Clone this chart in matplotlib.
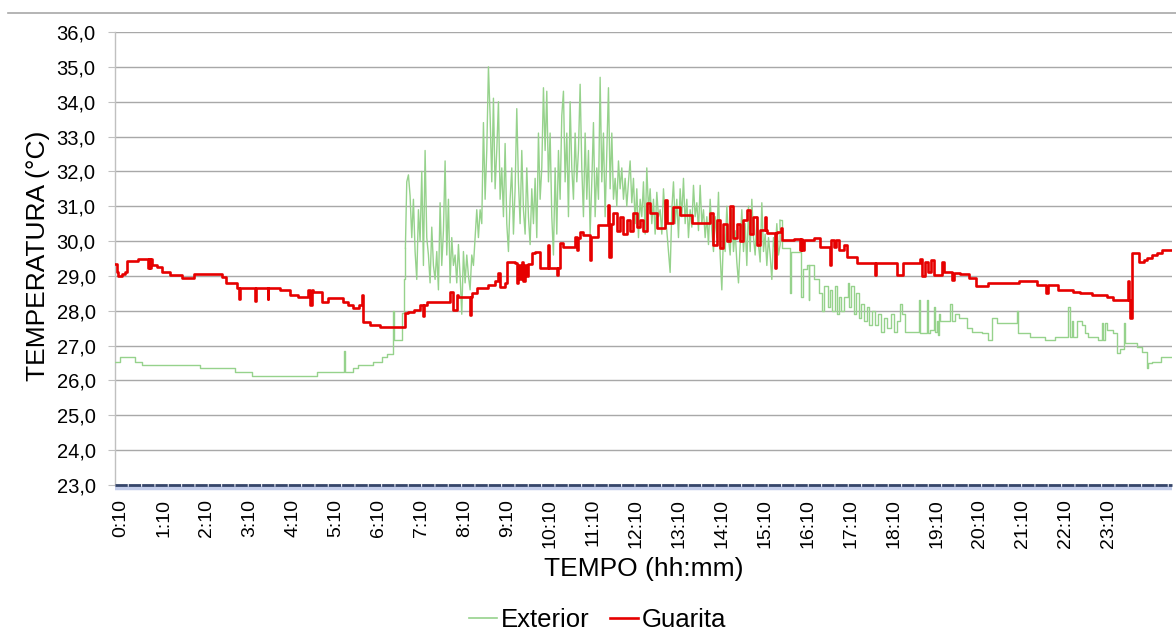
import numpy as np
import matplotlib
matplotlib.use("Agg")
import matplotlib.pyplot as plt
from matplotlib.lines import Line2D
import matplotlib.transforms as mtransforms

plt.rcParams['font.family'] = ['Liberation Sans', 'DejaVu Sans']

# ---------------- data (minute of day, temperature °C) ----------------
ext_night = [
    (1.6, 26.54), (8.6, 26.66), (29.5, 26.54), (40, 26.44), (120.4, 26.35), (169.3, 26.25),
    (192.6, 26.14), (283.5, 26.23), (321.7, 26.85), (323.5, 26.23), (334.8, 26.35), (341.8, 26.44),
    (362.7, 26.54), (374.4, 26.67), (381.4, 26.76), (389.8, 28.0), (391.6, 27.16), (402.3, 27.93),
    (405.6, 28.9), (407.5, 29.8),
]
ext_dense_start = 409.4
ext_dense_step = 2.33
ext_dense_temps = [
    31.7, 31.9, 31.3, 30.1, 31.2, 29.7, 28.9, 30.9, 30.0, 32.0, 29.3, 32.6, 30.1, 29.6, 28.8,
    30.4, 29.3, 28.9, 29.7, 28.6, 31.1, 29.3, 30.3, 32.3, 29.6, 31.2, 28.8, 30.1, 29.3, 29.6,
    28.8, 29.9, 29.0, 27.9, 29.7, 28.8, 29.6, 29.0, 28.6, 29.6, 29.3, 30.1, 30.9, 30.1, 30.9,
    30.5, 33.4, 31.2, 32.6, 35.0, 33.6, 31.7, 34.1, 31.5, 32.6, 34.0, 31.2, 32.1, 30.7, 32.8,
    30.5, 29.7, 31.2, 32.1, 30.2, 31.5, 33.8, 31.7, 30.5, 32.6, 30.9, 30.2, 32.1, 30.7, 29.9,
    31.5, 30.5, 31.8, 30.1, 33.1, 31.2, 32.1, 34.4, 32.6, 34.3, 31.7, 33.1, 30.7, 29.6, 32.1,
    30.2, 32.6, 31.2, 33.6, 34.3, 31.7, 33.1, 30.7, 34.0, 32.1, 31.2, 33.1, 31.7, 32.6, 34.5,
    32.1, 30.7, 33.1, 31.2, 32.6, 30.2, 31.7, 33.4, 30.7, 32.1, 31.2, 34.7, 31.7, 33.1, 30.7,
    32.6, 34.4, 31.5, 33.1, 31.2, 31.8, 31.0, 32.3, 31.5, 32.1, 31.2, 31.8, 31.0, 31.7, 32.3,
    31.1, 31.8, 30.5, 31.5, 30.1, 31.2, 30.7, 31.7, 30.2, 32.1, 30.9, 31.5, 30.5, 31.2, 30.2,
    31.4, 30.7, 30.9, 30.2, 31.5, 30.7, 30.3, 29.7, 29.1, 30.9, 31.7, 30.5, 31.2, 30.1, 31.5,
    30.7, 31.8, 30.5, 31.2, 30.1, 30.9, 30.4, 31.6, 30.7, 31.1, 30.3, 31.6, 30.5, 30.9, 30.1,
    30.7, 29.9, 31.2, 30.3, 29.7, 30.7, 30.1, 31.4, 29.6, 28.6, 30.2, 29.7, 31.0, 30.1, 29.6,
    30.9, 29.7, 30.3, 29.4, 28.8, 29.9, 30.9, 29.7, 30.5, 29.3, 31.0, 29.7, 31.2, 30.1, 29.6,
    30.7, 29.9, 29.4, 31.1, 29.7, 30.2, 29.3, 30.1, 29.6, 28.9, 30.1, 29.7, 30.5, 29.6, 29.9,
]
ext_afternoon = [
    (931, 30.6), (934, 29.8), (945, 28.5), (947, 29.7), (961, 28.4), (963, 29.2), (969, 29.3),
    (971, 28.3), (972, 29.3), (978, 28.9), (985, 28.5), (990, 28.0), (993, 28.7), (998, 28.1),
    (1001, 28.6), (1004, 28.0), (1008, 28.7), (1011, 27.9), (1014, 28.4), (1017, 28.0),
    (1021, 28.4), (1026, 28.8), (1027, 28.1), (1030, 28.7), (1034, 27.9), (1037, 28.5),
    (1041, 27.8), (1044, 28.2), (1048, 27.7), (1052, 28.1), (1056, 27.6), (1060, 28.0),
    (1064, 27.6), (1068, 27.9), (1072, 27.4), (1076, 27.8), (1080, 27.5), (1086, 27.9),
    (1090, 27.4), (1095, 27.7),
]
ext_evening = [
    (1099, 28.2), (1102, 27.9), (1106, 27.4), (1125, 28.3), (1127, 27.35), (1136, 28.3),
    (1138, 27.35), (1141, 27.45), (1146, 28.1), (1148, 27.4), (1150, 27.7), (1152, 27.3),
    (1154, 27.9), (1155, 27.7), (1169, 28.2), (1171, 27.7), (1176, 27.9), (1181, 27.8),
    (1192, 27.5), (1199, 27.4), (1213, 27.35), (1222, 27.16), (1227, 27.8), (1234, 27.65),
    (1262, 28.0), (1264, 27.35), (1281, 27.26), (1302, 27.16), (1316, 27.26), (1334, 28.1),
    (1336, 27.26), (1339, 27.7), (1341, 27.26), (1346, 27.7), (1353, 27.6), (1358, 27.35),
    (1362, 27.26), (1376, 27.16), (1381, 27.64), (1383, 27.16), (1386, 27.64), (1388, 27.45),
    (1397, 27.35), (1402, 26.78), (1406, 26.9), (1412, 27.64), (1414, 27.07), (1430, 26.97),
    (1437, 26.83), (1444, 26.35), (1446, 26.5), (1451, 26.54), (1463, 26.66), (1479, 26.66),
]

gua_night = [
    (1.6, 29.33), (4, 29.1), (6.2, 29.0), (10.9, 29.05), (15.6, 29.1), (17.9, 29.44),
    (34.2, 29.49), (47.5, 29.22), (48.8, 29.49), (50.3, 29.22), (51.6, 29.49), (52.8, 29.31),
    (59.8, 29.27), (66.8, 29.12), (78.5, 29.03), (94.8, 28.93), (112, 29.05), (150.7, 28.98),
    (156.7, 28.81), (171.7, 28.64), (175.4, 28.35), (176.5, 28.64), (197.3, 28.28),
    (198.4, 28.64), (215, 28.35), (216.1, 28.64), (232.2, 28.6), (246.2, 28.45), (257.9, 28.39),
    (271.9, 28.6), (274.2, 28.17), (276.5, 28.6), (278.8, 28.55), (290.5, 28.26), (298.9, 28.36),
    (320.8, 28.26), (327.8, 28.17), (334.8, 28.07), (342, 28.17), (346.4, 28.45), (348.8, 27.69),
    (358, 27.59), (372, 27.54), (407, 27.93), (411.6, 27.97),
]
gua_day = [
    (420, 28.02), (428, 28.17), (432, 27.85), (434, 28.17), (437.3, 28.26), (470, 28.55),
    (474.6, 28.02), (479, 28.45), (481.6, 28.4), (497.9, 27.88), (499.3, 28.4), (500.2, 28.5),
    (507.2, 28.64), (523.6, 28.74), (532.9, 28.84), (537.5, 29.08), (539.9, 28.69),
    (546.9, 28.79), (549.2, 29.41), (560.8, 29.36), (563, 28.8), (565.5, 29.3), (567.8, 28.9),
    (570, 29.4), (572.5, 28.85), (574.8, 29.3), (577, 29.0), (579.5, 29.35), (584.1, 29.65),
    (588.8, 29.7), (595.8, 29.22), (607.4, 29.89), (608.8, 29.22), (619.1, 29.03),
    (620.5, 29.22), (623.7, 29.94), (628.4, 29.84), (644.7, 30.13), (647, 29.74), (649.4, 30.08),
    (651.7, 30.27), (656.4, 30.18), (665.7, 29.46), (667.1, 30.13), (677.3, 30.46),
    (690.4, 31.04), (692.7, 29.55), (695, 30.5), (698.3, 30.8), (703, 30.3), (707.6, 30.7),
    (712.3, 30.2), (717, 30.6), (721.6, 30.3), (726.3, 30.8), (731, 30.4), (735.6, 30.6),
    (740.2, 30.3), (744.9, 31.08), (749.6, 30.8), (758.9, 30.37), (770.5, 31.18),
    (772.9, 30.51), (782.2, 30.99), (791.5, 30.75), (807.8, 30.51), (833.4, 30.8),
    (838.1, 29.9), (842.8, 30.6), (847.4, 29.8), (852.1, 30.5), (856.7, 30.0), (861.4, 31.0),
    (866, 30.1), (870.7, 30.5), (875.4, 30.0), (880, 30.6), (884.7, 30.9), (889.4, 30.2),
    (894, 30.7), (898.7, 29.9),
]
gua_afternoon = [
    (903.3, 30.32), (910, 30.7), (911.5, 30.32), (913, 30.22), (924.3, 29.22), (925.5, 30.22),
    (927, 30.27), (932, 30.37), (934, 30.03), (950, 30.05), (959, 29.74), (961, 30.05),
    (962, 29.74), (964, 30.03), (978, 30.08), (987, 29.84), (1001, 29.31), (1002, 30.03),
    (1006, 29.84), (1009, 30.03), (1013, 29.74), (1020, 29.89), (1024.5, 29.55),
    (1038.4, 29.36), (1064, 29.03), (1065.5, 29.36), (1094.4, 29.03), (1103.7, 29.36),
    (1127, 29.5), (1130, 29.0), (1134, 29.4), (1138, 29.1), (1142, 29.45), (1146, 29.03),
    (1157, 29.41), (1160, 29.12), (1171.2, 28.88), (1173.6, 29.07),
]
gua_evening = [
    (1183, 29.05), (1195, 28.95), (1205, 28.7), (1222, 28.8), (1265, 28.85), (1290, 28.75),
    (1300, 28.75), (1303, 28.5), (1305, 28.75), (1320, 28.6), (1340, 28.55), (1351, 28.5),
    (1367, 28.45), (1388, 28.39), (1397, 28.31), (1417.3, 28.84), (1418.7, 28.31),
    (1419.7, 27.78), (1423, 29.65), (1432.3, 29.41), (1439.2, 29.46), (1443.9, 29.51),
    (1450.9, 29.6), (1457.9, 29.67), (1464.9, 29.73), (1479, 29.73),
]

tick_minutes = [10 + 60 * h for h in range(24)]
tick_labels = [f"{h}:10" for h in range(24)]
y_ticks = [23, 24, 25, 26, 27, 28, 29, 30, 31, 32, 33, 34, 35, 36]

series_names = ["Exterior", "Guarita"]
colors = ["#96d28c", "#e60000"]

# ---------------- assemble ----------------
def unzip(*segs):
    t, v = [], []
    for s in segs:
        for a, b in s:
            t.append(a)
            v.append(b)
    return t, v

et1, ev1 = unzip(ext_night)
dense_t = list(ext_dense_start + ext_dense_step * np.arange(len(ext_dense_temps)))
et2, ev2 = unzip(ext_afternoon, ext_evening)
gua_t, gua_v = unzip(gua_night, gua_day, gua_afternoon, gua_evening)

# ---------------- figure ----------------
W, H = 1176, 637
fig = plt.figure(figsize=(W / 100, H / 100), dpi=100)
ax = fig.add_axes([115 / W, 1 - 485 / H, (1172 - 115) / W, (485 - 32) / H])

green_kw = dict(color=colors[0], lw=1.0, zorder=3)
ax.plot(et1, ev1, drawstyle='steps-post', **green_kw)
ax.plot([et1[-1]] + dense_t + [et2[0]], [ev1[-1]] + ext_dense_temps + [ev2[0]], **green_kw)
ax.plot(et2, ev2, drawstyle='steps-post', **green_kw)
ax.plot(gua_t, gua_v, drawstyle='steps-post', color=colors[1], lw=1.9, zorder=4)

ax.set_xlim(1.6, 1479)
ax.set_ylim(23, 36)
ax.set_yticks(y_ticks)
ax.set_yticklabels([f"{v:.1f}".replace('.', ',') for v in y_ticks], fontsize=14.5)
ax.set_xticks(tick_minutes)
ax.set_xticklabels(tick_labels, rotation=90, fontsize=14)

ax.yaxis.grid(True, color='#a8a8a8', lw=1.0)
ax.set_axisbelow(True)
for s in ['top', 'right', 'bottom']:
    ax.spines[s].set_visible(False)
ax.spines['left'].set_color('#c0c0c0')
ax.spines['left'].set_linewidth(1.0)
ax.tick_params(axis='y', length=5, color='#c0c0c0', pad=9)
ax.tick_params(axis='x', length=0, pad=10)

# axis floor band at 23,0
off = mtransforms.offset_copy(ax.transData, fig=fig, x=0, y=-2.5, units='dots')
ax.plot([1.6, 1479], [23, 23], color='#c3cdea', lw=3.2, transform=off, clip_on=False, zorder=5,
        solid_capstyle='butt')
floor, = ax.plot([1.6, 1479], [23, 23], color='#36466a', lw=2.0, clip_on=False, zorder=6)
floor.set_dashes((4.4, 0.4))

ax.set_xlabel("TEMPO (hh:mm)", fontsize=19, va='center')
ax.xaxis.set_label_coords(0.5, -0.185)
ax.set_ylabel("TEMPERATURA (°C)", fontsize=19, va='center')
ax.yaxis.set_label_coords(-0.073, 0.505)

handles = [Line2D([], [], color=colors[0], lw=1.2), Line2D([], [], color=colors[1], lw=1.9)]
fig.legend(handles, series_names, loc='center', bbox_to_anchor=(0.508, 0.027), ncol=2,
           frameon=False, fontsize=18.5, handlelength=1.1, handletextpad=0.15, columnspacing=0.8)

fig.add_artist(Line2D([8 / W, 1], [1 - 13 / H, 1 - 13 / H], color='#a8a8a8', lw=1.2))

fig.savefig("out.png", dpi=100)
